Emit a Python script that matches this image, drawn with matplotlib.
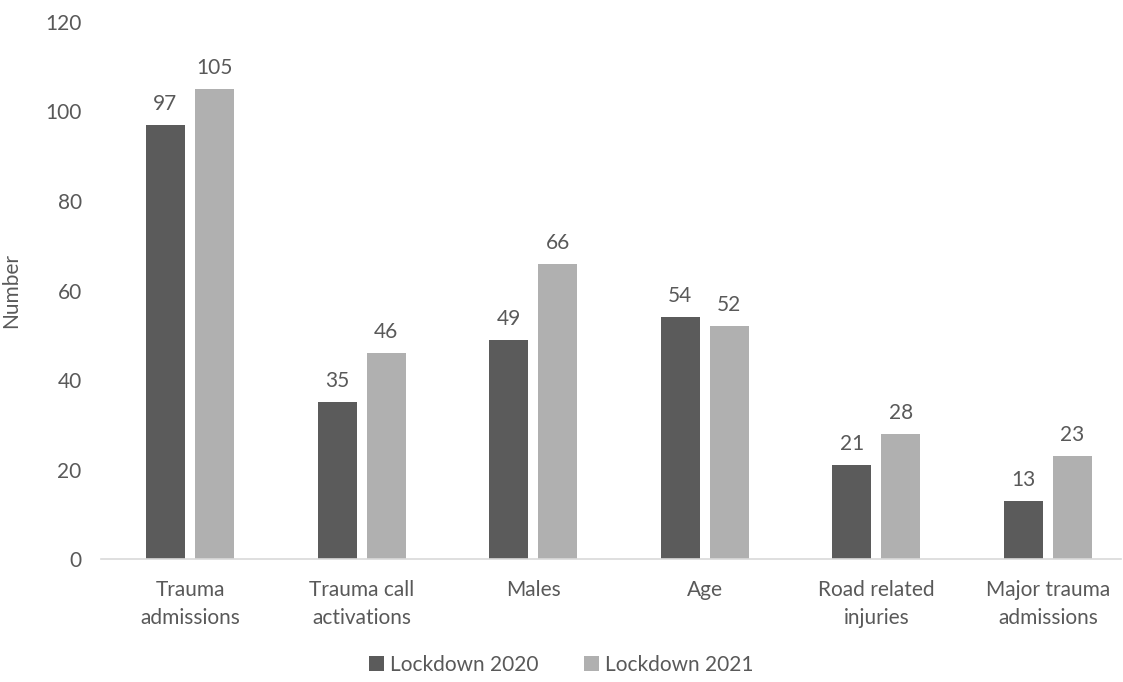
import matplotlib.pyplot as plt
import numpy as np

categories = ["Trauma\nadmissions", "Trauma call\nactivations", "Males", "Age",
              "Road related\ninjuries", "Major trauma\nadmissions"]
lockdown_2020 = [97, 35, 49, 54, 21, 13]
lockdown_2021 = [105, 46, 66, 52, 28, 23]
series_names = ["Lockdown 2020", "Lockdown 2021"]

TEXT = "#595959"
DARK = "#5b5b5b"
LIGHT = "#b0b0b0"

plt.rcParams["font.family"] = ["Lato", "DejaVu Sans"]

fig = plt.figure(figsize=(11.23, 6.82), dpi=100)
ax = fig.add_axes([0.09, 0.18, 0.908, 0.788])

x = np.arange(len(categories))
w = 0.227
gap = 0.06
b1 = ax.bar(x - (w + gap) / 2, lockdown_2020, w, color=DARK, label=series_names[0])
b2 = ax.bar(x + (w + gap) / 2, lockdown_2021, w, color=LIGHT, label=series_names[1])

for bars, vals in ((b1, lockdown_2020), (b2, lockdown_2021)):
    for rect, v in zip(bars, vals):
        ax.annotate(str(v), (rect.get_x() + rect.get_width() / 2, v),
                    xytext=(0, 8), textcoords="offset points",
                    ha="center", va="bottom", fontsize=15, color=TEXT)

# group spacing is a little wider than an even split of the axis
ax.set_xlim(-0.519, 5.425)
ax.set_ylim(0, 120)
ax.set_yticks(range(0, 121, 20))
ax.set_xticks(x)
ax.set_xticklabels(categories, linespacing=1.5)
ax.tick_params(axis="both", length=0, labelsize=15, colors=TEXT)
ax.tick_params(axis="y", pad=14)
ax.tick_params(axis="x", pad=15)
for s in ("top", "right", "left"):
    ax.spines[s].set_visible(False)
ax.spines["bottom"].set_color("#d9d9d9")
ax.spines["bottom"].set_linewidth(1.2)

ax.set_ylabel("Number", fontsize=15, color=TEXT)
ax.yaxis.set_label_coords(-0.078, 0.5)

fig.legend(handles=[b1, b2], loc="center", bbox_to_anchor=(0.5, 0.025), ncol=2,
           frameon=False, fontsize=15, labelcolor=TEXT, handlelength=0.7,
           handleheight=0.7, handletextpad=0.3, columnspacing=2.2)

fig.savefig("out.png", dpi=100)
